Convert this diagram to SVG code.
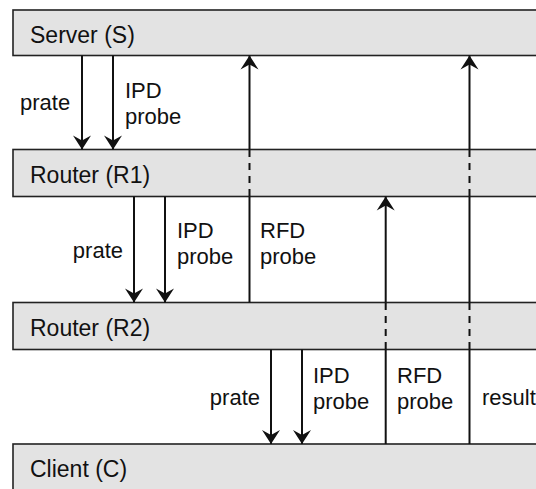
<svg xmlns="http://www.w3.org/2000/svg" width="536" height="489" viewBox="0 0 536 489">
<style>
.box{fill:#e3e3e3;stroke:#222;stroke-width:1.6}
.name{font-family:"Liberation Sans",Arial,sans-serif;font-size:23px;fill:#111}
.lbl{font-family:"Liberation Sans",Arial,sans-serif;font-size:22px;fill:#111}
.ln{stroke:#111;stroke-width:2;fill:none}
.arr{stroke:#111;stroke-width:2;fill:none;marker-end:url(#ah)}
.dash{stroke:#111;stroke-width:2;fill:none;stroke-dasharray:7,6}
</style>
<defs>
<marker id="ah" markerUnits="userSpaceOnUse" markerWidth="32" markerHeight="32" viewBox="-16 -16 32 32" refX="0" refY="0" orient="auto" overflow="visible">
<path d="M0,0 L-14,-9 L-9,0 L-14,9 Z" fill="#111"/>
</marker>
</defs>
<rect x="0" y="0" width="536" height="489" fill="#fff"/>
<g id="server"><rect class="box" x="13" y="10" width="530" height="45.5"/><text class="name" x="30" y="43">Server (S)</text></g>
<g id="router1"><rect class="box" x="13" y="149.5" width="530" height="47"/><text class="name" x="30" y="183">Router (R1)</text></g>
<g id="router2"><rect class="box" x="13" y="302.5" width="530" height="47"/><text class="name" x="30" y="336">Router (R2)</text></g>
<g id="client"><rect class="box" x="13" y="444" width="530" height="60"/><text class="name" x="30" y="477">Client (C)</text></g>
<g id="connectors">
<line class="arr" x1="82" y1="55.5" x2="82" y2="149.5"/>
<line class="arr" x1="113" y1="55.5" x2="113" y2="149.5"/>
<line class="arr" x1="249.5" y1="149.5" x2="249.5" y2="55.5"/>
<line class="arr" x1="469.5" y1="149.5" x2="469.5" y2="55.5"/>
<line class="dash" x1="249.5" y1="150" x2="249.5" y2="196"/>
<line class="dash" x1="469.5" y1="150" x2="469.5" y2="196"/>
<line class="arr" x1="134" y1="196.5" x2="134" y2="302.5"/>
<line class="arr" x1="165" y1="196.5" x2="165" y2="302.5"/>
<line class="ln" x1="249.5" y1="196.5" x2="249.5" y2="302.5"/>
<line class="arr" x1="385.7" y1="302.5" x2="385.7" y2="196.5"/>
<line class="ln" x1="469.5" y1="196.5" x2="469.5" y2="302.5"/>
<line class="dash" x1="385.7" y1="303" x2="385.7" y2="349"/>
<line class="dash" x1="469.5" y1="303" x2="469.5" y2="349"/>
<line class="arr" x1="271" y1="349.5" x2="271" y2="444"/>
<line class="arr" x1="302" y1="349.5" x2="302" y2="444"/>
<line class="ln" x1="385.7" y1="349.5" x2="385.7" y2="444"/>
<line class="ln" x1="469.5" y1="349.5" x2="469.5" y2="444"/>
</g>
<g id="labels">
<text class="lbl" x="20" y="110">prate</text>
<text class="lbl" x="125" y="98">IPD</text>
<text class="lbl" x="125" y="124">probe</text>
<text class="lbl" x="123" y="258" text-anchor="end">prate</text>
<text class="lbl" x="177" y="238">IPD</text>
<text class="lbl" x="177" y="264">probe</text>
<text class="lbl" x="260" y="238">RFD</text>
<text class="lbl" x="260" y="264">probe</text>
<text class="lbl" x="260" y="405" text-anchor="end">prate</text>
<text class="lbl" x="313" y="383">IPD</text>
<text class="lbl" x="313" y="409">probe</text>
<text class="lbl" x="397" y="383">RFD</text>
<text class="lbl" x="397" y="409">probe</text>
<text class="lbl" x="482" y="405">result</text>
</g>
</svg>
